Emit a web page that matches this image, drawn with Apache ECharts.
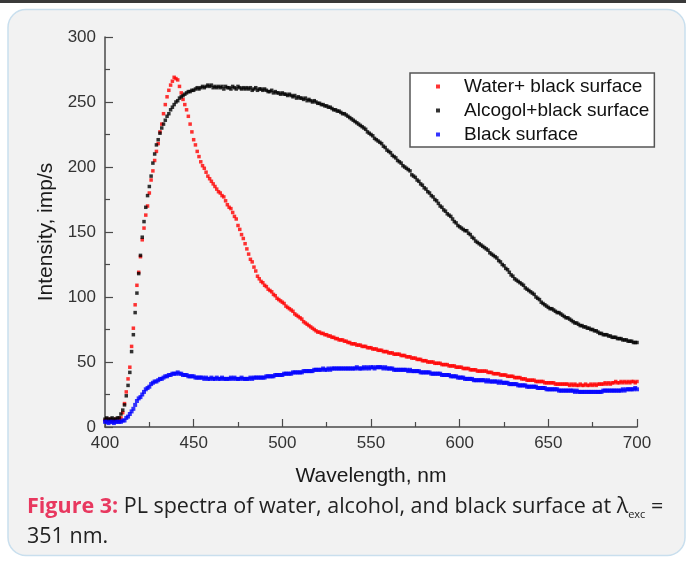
<!DOCTYPE html>
<html>
<head>
<meta charset="utf-8">
<title>PL spectra</title>
<script src="https://cdn.jsdelivr.net/npm/echarts@6/dist/echarts.min.js"></script>
<style>
html, body { margin: 0; padding: 0; background: #fff; }
#chart { width: 686px; height: 562px; }
</style>
</head>
<body>
<div id="chart"></div>
<script>
// wavelength grid: 400..700 nm, 1 nm step
var wlStart = 400;
var wlStep = 1;

var seriesNames = ["Water+ black surface", "Alcogol+black surface", "Black surface"];

// Water + black surface (red)
var waterBlack = [
  5,6,5,6,5,5,6,5,6,7,
  11,18,27,37,46,62,76,94,109,119,
  131,144,153,163,170,180,190,197,205,212,
  218,227,233,241,248,254,259,263,266,269,
  268,267,262,257,252,248,244,239,233,227,
  221,217,212,208,204,201,199,196,193,191,
  189,187,185,183,181,180,178,177,174,171,
  169,168,165,162,160,155,152,148,145,141,
  137,133,129,127,123,120,116,114,112,111,
  109,108,106,105,104,102,101,99,98,97,
  96,95,93,92,91,90,89,87,86,85,
  84,83,81,80,79,78,77,76,75,74,
  73,73,72,72,71,71,70,70,69,69,
  68,68,67,67,67,66,66,65,65,64,
  64,64,63,63,63,62,62,62,61,61,
  61,60,60,60,59,59,59,58,58,58,
  57,57,57,56,56,56,56,55,55,55,
  54,54,54,53,53,53,52,52,52,51,
  51,51,50,50,50,50,49,49,49,49,
  48,48,48,48,47,47,47,47,46,46,
  46,46,45,45,45,45,44,44,44,44,
  43,43,43,43,43,43,42,42,42,41,
  41,41,41,40,40,40,40,39,39,39,
  39,38,38,38,38,37,37,37,36,36,
  36,36,36,35,35,35,35,35,34,34,
  34,34,34,34,33,33,33,33,33,33,
  33,33,32,33,32,33,32,32,33,32,
  32,33,32,32,33,32,33,32,33,33,
  33,33,34,33,34,33,34,34,35,34,
  34,35,34,35,34,35,34,35,35,34,
  35
];

// Alcohol + black surface (black)
var alcoholBlack = [
  6,7,6,6,7,6,6,7,7,10,
  13,17,24,32,42,58,71,88,103,118,
  132,146,158,169,178,185,193,203,210,217,
  221,226,230,233,236,239,241,244,246,248,
  250,251,253,254,255,256,257,258,258,259,
  259,260,261,260,261,262,261,262,263,262,
  263,261,262,261,262,261,262,260,262,261,
  261,260,262,261,260,262,261,260,261,260,
  261,260,261,259,260,261,259,260,260,259,
  260,259,258,258,259,257,258,257,257,256,
  257,256,256,255,256,255,254,255,253,254,
  253,253,252,253,251,252,251,250,251,250,
  249,249,248,248,247,247,246,246,245,244,
  244,243,243,242,241,241,240,239,238,237,
  236,235,234,233,232,231,230,229,227,226,
  225,224,222,221,220,219,218,216,215,213,
  212,211,209,208,207,205,204,203,201,200,
  199,198,197,194,193,192,190,189,187,186,
  184,183,181,180,178,177,175,174,172,170,
  169,167,166,164,163,162,160,158,157,155,
  154,153,152,151,151,149,148,146,145,143,
  142,141,140,139,138,137,136,134,133,132,
  131,130,128,127,125,124,122,121,119,117,
  116,114,113,112,111,110,109,107,106,105,
  104,103,102,100,99,98,96,95,94,93,
  92,91,91,90,89,88,88,87,86,85,
  84,84,83,82,81,80,80,79,78,78,
  77,77,76,76,75,75,74,74,73,72,
  72,71,71,71,70,70,69,69,69,68,
  68,68,67,67,67,66,66,66,65,65,
  65
];

// Black surface (blue)
var blackSurface = [
  4,4,3,4,4,3,4,4,4,4,
  5,5,7,8,10,12,14,17,20,22,
  23,25,27,29,30,31,33,34,35,35,
  36,37,37,38,39,39,40,40,41,41,
  41,42,41,41,40,40,40,39,39,39,
  39,38,38,38,38,38,37,38,37,37,
  38,37,37,38,37,37,38,37,37,37,
  37,38,37,38,37,37,37,38,37,37,
  37,37,38,37,38,38,38,38,38,38,
  38,39,39,39,39,39,40,40,40,40,
  40,41,41,41,41,41,42,42,42,42,
  42,42,43,43,43,43,43,43,44,44,
  44,44,44,45,44,44,45,44,45,45,
  45,45,45,45,45,45,45,45,45,45,
  45,45,46,45,45,45,46,45,46,45,
  46,46,45,46,46,46,46,45,46,45,
  45,45,45,44,44,44,44,44,44,44,
  44,43,44,43,43,43,43,43,42,42,
  42,42,42,42,41,41,41,41,41,41,
  40,40,40,40,40,39,39,39,39,38,
  38,38,38,37,37,37,37,37,36,36,
  36,36,36,36,36,35,36,35,35,35,
  35,35,34,35,34,34,34,34,33,33,
  33,33,33,32,32,32,32,32,31,31,
  31,31,31,31,30,30,30,30,30,29,
  29,29,29,29,29,29,28,28,28,28,
  28,28,28,28,28,27,28,27,27,27,
  27,27,27,27,27,27,27,27,27,27,
  27,28,28,28,28,28,28,28,28,28,
  28,28,29,28,29,29,29,29,29,30,
  29
];

var xTicks = { min: 400, max: 700, interval: 50 };
var yTicks = { min: 0, max: 300, interval: 50 };

function toPairs(values) {
  return values.map(function (v, i) {
    return [wlStart + i * wlStep, v];
  });
}

var axisColor = "#4a4a4a";
var sansFont = "Liberation Sans";
var chart = echarts.init(document.getElementById("chart"));

var option = {
  backgroundColor: "#ffffff",
  animation: false,
  textStyle: { fontFamily: sansFont },
  graphic: [
    {
      type: "rect",
      z: -10,
      shape: { x: 0, y: 0, width: 686, height: 3 },
      style: { fill: "#3a3a3a" }
    },
    {
      type: "rect",
      z: -9,
      shape: { x: 8, y: 9.5, width: 677, height: 546, r: 18 },
      style: { fill: "#f2f2f2", stroke: "#c9dfee", lineWidth: 1.5 }
    },
    {
      type: "text",
      z: 10,
      left: 27,
      top: 492,
      style: {
        text: "{fig|Figure 3:} PL spectra of water, alcohol, and black surface at λ{sub|exc} =\n351 nm.",
        fontFamily: "Open Sans",
        fontSize: 21.5,
        fill: "#222222",
        lineHeight: 30,
        rich: {
          fig: { fontFamily: "Open Sans", fontSize: 21.5, fontWeight: "bold", fill: "#e8385f", lineHeight: 30 },
          sub: { fontFamily: "Open Sans", fontSize: 11, fill: "#222222", lineHeight: 30, padding: [16, 0, 0, 0] }
        }
      }
    }
  ],
  grid: { left: 105, right: 49, top: 37, bottom: 135 },
  legend: {
    orient: "vertical",
    left: 410,
    top: 73,
    padding: [4, 5, 3, 26],
    itemGap: 5,
    itemWidth: 4,
    itemHeight: 4,
    symbolKeepAspect: false,
    backgroundColor: "#ffffff",
    borderColor: "#555555",
    borderWidth: 1.5,
    borderRadius: 0,
    icon: "rect",
    textStyle: { fontSize: 19, color: "#111111", fontFamily: sansFont, padding: [0, 0, 0, 19] },
    data: seriesNames
  },
  xAxis: {
    type: "value",
    min: xTicks.min,
    max: xTicks.max,
    interval: xTicks.interval,
    name: "Wavelength, nm",
    nameLocation: "middle",
    nameGap: 39,
    nameTextStyle: { fontSize: 21, color: "#1a1a1a", fontFamily: sansFont },
    axisLine: { show: true, onZero: false, lineStyle: { color: axisColor, width: 1.5 } },
    axisTick: { show: true, inside: true, length: 8, lineStyle: { color: axisColor, width: 1.2 } },
    minorTick: { show: true, splitNumber: 2, length: 5, lineStyle: { color: axisColor, width: 1.2 } },
    axisLabel: { fontSize: 17, color: "#333333", margin: 8, fontFamily: sansFont },
    splitLine: { show: false },
    minorSplitLine: { show: false }
  },
  yAxis: {
    type: "value",
    min: yTicks.min,
    max: yTicks.max,
    interval: yTicks.interval,
    name: "Intensity, imp/s",
    nameLocation: "middle",
    nameGap: 48,
    nameTextStyle: { fontSize: 21, color: "#1a1a1a", fontFamily: sansFont },
    axisLine: { show: true, onZero: false, lineStyle: { color: axisColor, width: 1.5 } },
    axisTick: { show: true, inside: true, length: 8, lineStyle: { color: axisColor, width: 1.2 } },
    minorTick: { show: true, splitNumber: 2, length: 5, lineStyle: { color: axisColor, width: 1.2 } },
    axisLabel: { fontSize: 17, color: "#333333", margin: 9, fontFamily: sansFont },
    splitLine: { show: false },
    minorSplitLine: { show: false }
  },
  series: [
    {
      name: seriesNames[0],
      type: "scatter",
      symbol: "rect",
      symbolSize: 3.5,
      itemStyle: { color: "#ff0000" },
      data: toPairs(waterBlack)
    },
    {
      name: seriesNames[1],
      type: "scatter",
      symbol: "rect",
      symbolSize: 3.5,
      itemStyle: { color: "#000000" },
      data: toPairs(alcoholBlack)
    },
    {
      name: seriesNames[2],
      type: "scatter",
      symbol: "rect",
      symbolSize: 4,
      itemStyle: { color: "#0000ff" },
      data: toPairs(blackSurface)
    }
  ]
};

chart.setOption(option);
</script>
</body>
</html>
